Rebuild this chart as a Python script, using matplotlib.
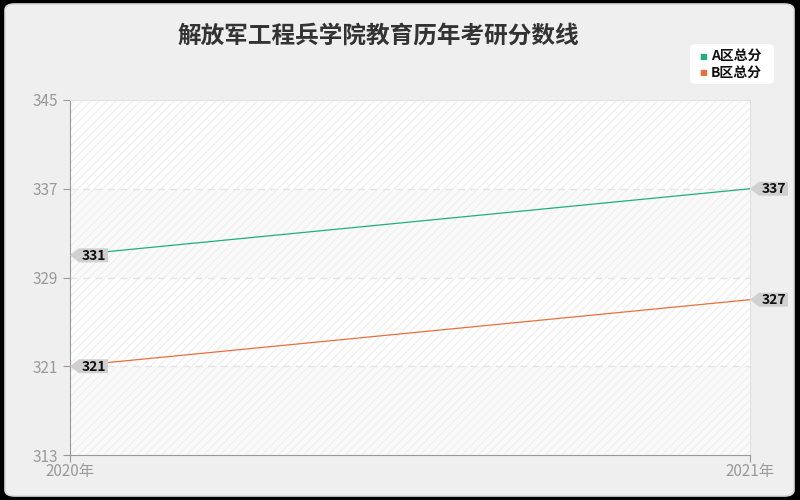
import matplotlib
matplotlib.use("Agg")
import matplotlib.pyplot as plt
from matplotlib.patches import FancyBboxPatch, Rectangle, Polygon
from matplotlib.transforms import ScaledTranslation

plt.rcParams['font.family'] = ['Noto Sans CJK SC', 'DejaVu Sans']

title = "解放军工程兵学院教育历年考研分数线"
years = ["2020年", "2021年"]
series_names = ["A区总分", "B区总分"]
a_scores = [331, 337]
b_scores = [321, 327]
yticks = [313, 321, 329, 337, 345]
colors = ["#1fb07f", "#e8703f"]

fig = plt.figure(figsize=(8, 5), dpi=100)
fig.patch.set_facecolor("black")
panel = FancyBboxPatch((5 / 800, 4 / 500), 789 / 800, 492 / 500,
                       boxstyle="round,pad=0,rounding_size=0.012",
                       transform=fig.transFigure, facecolor="#efefef",
                       edgecolor="#d8d8d8", linewidth=1.2, zorder=-5)
fig.patches.append(panel)

ax = fig.add_axes([70 / 800, 45 / 500, 680 / 800, 355 / 500])
ax.set_facecolor("white")
x = list(range(len(years)))
ax.set_xlim(0, 1)
ax.set_ylim(yticks[0], yticks[-1])

# alternating bands
for i in range(len(yticks) - 1):
    if (len(yticks) - 2 - i) % 2 == 1:
        ax.axhspan(yticks[i], yticks[i + 1], color="#fafafa", zorder=0, lw=0)
ax.add_patch(Rectangle((0, 0), 1, 1, transform=ax.transAxes, fill=False,
                       hatch="////", edgecolor="#f0f0f0", lw=0, zorder=0.5))

for yv in yticks[1:-1]:
    ax.axhline(yv, color="#e4e4e4", lw=1, ls=(0, (5, 4)), zorder=1)

# label shape in pixels (converted to inches)
px = 1 / fig.dpi
shape = [(0, 0), (9 * px, 7 * px), (38 * px, 7 * px),
         (38 * px, -7 * px), (9 * px, -7 * px)]

for vals, col in zip([a_scores, b_scores], colors):
    ax.plot(x, vals, color=col, lw=0.9, zorder=3)
    for xi, v in zip(x, vals):
        tr = fig.dpi_scale_trans + ScaledTranslation(xi, v, ax.transData)
        poly = Polygon(shape, closed=True, transform=tr, facecolor="#d0d0d0",
                       edgecolor="none", zorder=4, clip_on=False)
        ax.add_patch(poly)
        ax.annotate(str(v), (xi, v), xytext=(24 * px * 72, -0.5), textcoords="offset points",
                    ha="center", va="center", fontsize=10, fontweight="bold",
                    color="#111111", zorder=5, annotation_clip=False)

ax.set_yticks(yticks)
ax.set_xticks(x)
ax.set_xticklabels(years)
ax.tick_params(axis="both", colors="#999999", labelsize=11, length=5)
ax.tick_params(axis="x", pad=1)
for s in ["left", "bottom"]:
    ax.spines[s].set_color("#999999")
for s in ["top", "right"]:
    ax.spines[s].set_color("#e2e2e2")

fig.text(378 / 800, 1 - 37 / 500, title, ha="center", va="center",
         fontsize=17, fontweight="bold", color="#333333")

# legend
leg_box = FancyBboxPatch((690 / 800, 1 - 84 / 500), 84 / 800, 40 / 500,
                         boxstyle="round,pad=0,rounding_size=0.008",
                         transform=fig.transFigure, facecolor="white",
                         edgecolor="none", zorder=5)
fig.patches.append(leg_box)
for i, (name, col) in enumerate(zip(series_names, colors)):
    yy = 1 - (56 + i * 17) / 500
    fig.text(703 / 800, yy, "■", color=col, fontsize=6, ha="center", va="center",
             family=["DejaVu Sans"], zorder=6)
    fig.text(711 / 800, yy, name, color="#111111", fontsize=10, fontweight="bold",
             ha="left", va="center", zorder=6)

fig.savefig("out.png", dpi=100, facecolor=fig.get_facecolor())
